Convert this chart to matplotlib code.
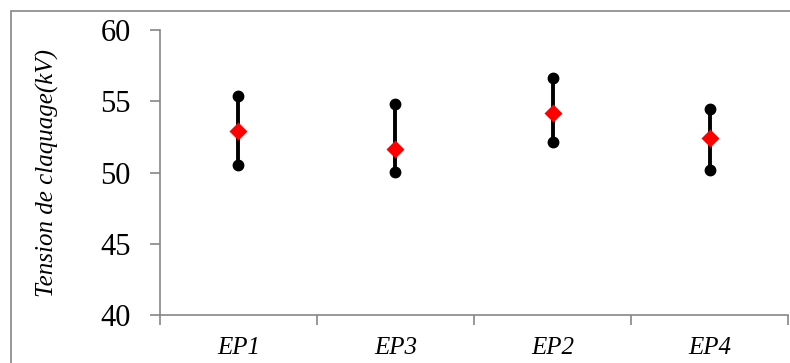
import matplotlib

matplotlib.use("Agg")
import matplotlib.pyplot as plt  # noqa: E402
from matplotlib.patches import Rectangle  # noqa: E402

# data
categories = ["EP1", "EP3", "EP2", "EP4"]
v_max = [55.4, 54.8, 56.6, 54.45]
v_mean = [52.95, 51.65, 54.15, 52.45]
v_min = [50.55, 50.05, 52.15, 50.2]

GRAY = "#868686"
plt.rcParams["font.family"] = ["Liberation Serif", "DejaVu Serif"]

fig = plt.figure(figsize=(7.9, 3.63), dpi=100)
ax = fig.add_axes([0.2025, 0.1322, 0.795, 0.785])

x = list(range(len(categories)))
for xi, lo, hi in zip(x, v_min, v_max):
    ax.plot([xi, xi], [lo, hi], color="black", lw=2.8, solid_capstyle="butt", zorder=2)
ax.plot(x, v_max, "o", color="black", ms=7.5, zorder=3)
ax.plot(x, v_min, "o", color="black", ms=7.5, zorder=3)
ax.plot(x, v_mean, "D", color="red", ms=9.5, mec="none", zorder=4)

ax.set_ylim(40, 60)
ax.set_yticks([40, 45, 50, 55, 60])
ax.set_xlim(-0.5, len(categories) - 0.5)
ax.set_xticks([i - 0.5 for i in range(len(categories) + 1)])
ax.set_xticklabels([])
ax.set_xticks(x, minor=True)
ax.set_xticklabels(categories, minor=True, fontstyle="italic", fontsize=18)

ax.tick_params(axis="y", which="major", direction="out", length=7, width=1.2, color=GRAY,
               labelsize=22, pad=14)
ax.tick_params(axis="x", which="major", direction="out", length=7, width=1.2, color=GRAY)
ax.tick_params(axis="x", which="minor", length=0, pad=16)

for side in ("top", "right"):
    ax.spines[side].set_visible(False)
for side in ("left", "bottom"):
    ax.spines[side].set_color(GRAY)
    ax.spines[side].set_linewidth(1.2)

ax.set_ylabel("Tension de claquage(kV)", fontstyle="italic", fontsize=18, labelpad=30)

# outer chart-area border (cropped on right and bottom)
fig.patches.append(Rectangle((11 / 790, -0.1), 1.2, 1.1 - 11 / 363, transform=fig.transFigure,
                             fill=False, edgecolor=GRAY, lw=1.2))

fig.savefig("out.png", dpi=100, facecolor="white")
